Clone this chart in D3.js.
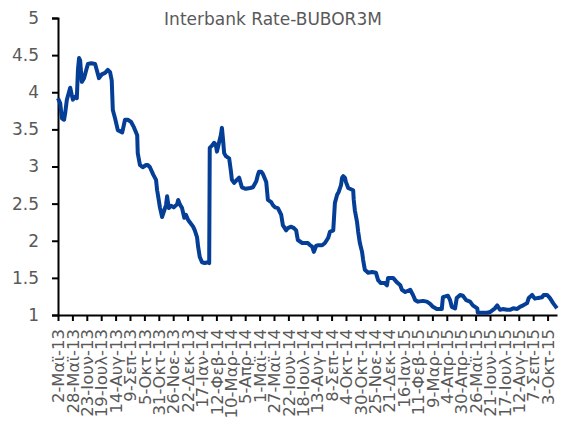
<!DOCTYPE html>
<html>
<head>
<meta charset="utf-8">
<script src="https://cdn.jsdelivr.net/npm/d3@7"></script>
<style>
  body { margin: 0; background: #fff; }
  svg text { font-family: "DejaVu Sans", sans-serif; fill: #595959; }
</style>
</head>
<body>
<svg width="569" height="427"></svg>
<script>
// BUBOR 3M readings, taken off the chart
var dates = [
  "2013-05-02","2013-05-06","2013-05-09","2013-05-13","2013-05-15","2013-05-18","2013-05-24","2013-05-27","2013-05-29",
  "2013-06-02","2013-06-05","2013-06-07","2013-06-09","2013-06-11","2013-06-13","2013-06-14","2013-06-18","2013-06-22","2013-06-25",
  "2013-07-01","2013-07-08","2013-07-11","2013-07-15","2013-07-20","2013-07-26","2013-07-31",
  "2013-08-04","2013-08-07","2013-08-09","2013-08-13","2013-08-18","2013-08-26","2013-08-31",
  "2013-09-05","2013-09-11","2013-09-16","2013-09-22","2013-09-23","2013-09-27",
  "2013-10-02","2013-10-08","2013-10-11","2013-10-15","2013-10-21","2013-10-26","2013-10-28","2013-10-30",
  "2013-11-02","2013-11-06","2013-11-09","2013-11-13","2013-11-15","2013-11-18","2013-11-22","2013-11-27",
  "2013-12-03","2013-12-05","2013-12-08","2013-12-12","2013-12-16","2013-12-19","2013-12-23","2013-12-26",
  "2014-01-01","2014-01-04","2014-01-08","2014-01-10","2014-01-13","2014-01-17","2014-01-22","2014-01-28","2014-01-30","2014-01-31",
  "2014-02-04","2014-02-08","2014-02-11","2014-02-13","2014-02-17","2014-02-20","2014-02-22","2014-02-24","2014-02-26",
  "2014-03-01","2014-03-07","2014-03-10","2014-03-12","2014-03-16","2014-03-21","2014-03-25","2014-03-30",
  "2014-04-06","2014-04-14","2014-04-19","2014-04-25","2014-04-28","2014-04-30",
  "2014-05-04","2014-05-07","2014-05-13","2014-05-16","2014-05-22","2014-05-25","2014-05-29",
  "2014-06-03","2014-06-09","2014-06-12","2014-06-18","2014-06-21","2014-06-27",
  "2014-07-02","2014-07-06","2014-07-09","2014-07-17","2014-07-27","2014-07-31",
  "2014-08-04","2014-08-07","2014-08-11","2014-08-14","2014-08-22","2014-08-27",
  "2014-09-02","2014-09-05","2014-09-11","2014-09-14","2014-09-18","2014-09-21","2014-09-25","2014-09-27","2014-09-29",
  "2014-10-02","2014-10-04","2014-10-08","2014-10-17","2014-10-18","2014-10-20","2014-10-24","2014-10-26","2014-10-29",
  "2014-11-02","2014-11-04","2014-11-07","2014-11-13","2014-11-20","2014-11-27",
  "2014-12-01","2014-12-06","2014-12-13","2014-12-17","2014-12-19","2014-12-28",
  "2015-01-04","2015-01-10","2015-01-13","2015-01-19","2015-01-28",
  "2015-02-02","2015-02-06","2015-02-11","2015-02-20","2015-02-27",
  "2015-03-05","2015-03-10","2015-03-17","2015-03-26","2015-03-28",
  "2015-04-06","2015-04-10","2015-04-13","2015-04-19","2015-04-22","2015-04-28",
  "2015-05-03","2015-05-09","2015-05-16","2015-05-21","2015-05-29","2015-05-30",
  "2015-06-08","2015-06-16","2015-06-21","2015-06-30",
  "2015-07-04","2015-07-09","2015-07-14","2015-07-22","2015-07-27",
  "2015-08-02","2015-08-09","2015-08-14","2015-08-20","2015-08-27","2015-08-30",
  "2015-09-05","2015-09-10","2015-09-16","2015-09-23","2015-09-26",
  "2015-10-02","2015-10-07","2015-10-13","2015-10-18","2015-10-20"
];
var rates = [
  3.92,3.85,3.65,3.63,3.72,3.90,4.06,3.96,3.90,
  3.94,3.92,4.30,4.46,4.43,4.23,4.14,4.19,4.30,4.38,
  4.39,4.38,4.30,4.19,4.24,4.26,4.30,
  4.27,4.16,3.76,3.65,3.49,3.46,3.63,
  3.63,3.60,3.53,3.42,3.18,3.02,
  2.99,3.02,3.02,2.99,2.89,2.82,2.68,2.59,
  2.45,2.32,2.39,2.48,2.60,2.44,2.47,2.45,
  2.49,2.55,2.49,2.44,2.31,2.35,2.28,2.25,
  2.19,2.14,2.05,1.92,1.78,1.71,1.70,1.71,1.70,3.25,
  3.28,3.32,3.29,3.20,3.33,3.42,3.52,3.36,3.18,
  3.14,3.11,2.95,2.82,2.78,2.82,2.85,2.72,
  2.70,2.71,2.72,2.80,2.89,2.93,
  2.93,2.90,2.79,2.55,2.52,2.48,2.45,
  2.44,2.35,2.21,2.14,2.17,2.19,
  2.17,2.14,2.01,1.97,1.97,1.94,
  1.92,1.85,1.93,1.94,1.94,1.97,
  2.04,2.12,2.14,2.51,2.62,2.66,2.75,2.85,2.87,
  2.85,2.79,2.71,2.68,2.55,2.41,2.25,2.12,1.97,
  1.85,1.74,1.61,1.57,1.58,1.57,
  1.47,1.43,1.43,1.40,1.50,1.50,
  1.44,1.40,1.34,1.31,1.34,
  1.27,1.20,1.18,1.19,1.18,
  1.15,1.11,1.08,1.08,1.24,
  1.26,1.20,1.11,1.09,1.23,1.27,
  1.26,1.20,1.18,1.13,1.09,1.03,
  1.03,1.03,1.04,1.09,
  1.13,1.07,1.08,1.07,1.07,
  1.09,1.08,1.11,1.13,1.16,1.23,
  1.27,1.22,1.23,1.24,1.27,
  1.27,1.23,1.16,1.11,1.09
];
var yTicks = [1, 1.5, 2, 2.5, 3, 3.5, 4, 4.5, 5];
var tickLabels = [
  "2-Μαϊ-13","28-Μαϊ-13","23-Ιουν-13","19-Ιουλ-13","14-Αυγ-13","9-Σεπ-13","5-Οκτ-13","31-Οκτ-13",
  "26-Νοε-13","22-Δεκ-13","17-Ιαν-14","12-Φεβ-14","10-Μαρ-14","5-Απρ-14","1-Μαϊ-14","27-Μαϊ-14",
  "22-Ιουν-14","18-Ιουλ-14","13-Αυγ-14","8-Σεπ-14","4-Οκτ-14","30-Οκτ-14","25-Νοε-14","21-Δεκ-14",
  "16-Ιαν-15","11-Φεβ-15","9-Μαρ-15","4-Απρ-15","30-Απρ-15","26-Μαϊ-15","21-Ιουν-15","17-Ιουλ-15",
  "12-Αυγ-15","7-Σεπ-15","3-Οκτ-15"
];
var title = "Interbank Rate-BUBOR3M";

var parse = d3.utcParse("%Y-%m-%d");
var data = dates.map(function (d, i) { return { date: parse(d), value: rates[i] }; });
var start = parse(dates[0]);
var tickDates = tickLabels.map(function (l, i) { return d3.utcDay.offset(start, 26 * i); });

var svg = d3.select("svg");

var x = d3.scaleUtc()
    .domain([start, parse(dates[dates.length - 1])])
    .range([58, 557]);
var y = d3.scaleLinear()
    .domain([1, 5])
    .range([315, 18]);

// y axis
var yAxis = svg.append("g")
    .attr("transform", "translate(58,0)")
    .call(d3.axisLeft(y).tickValues(yTicks).tickSize(6).tickPadding(13)
        .tickFormat(function (d) { return String(d); }));
yAxis.select(".domain").attr("stroke", "#000").attr("stroke-width", 2);
yAxis.selectAll(".tick line").attr("stroke", "#000").attr("stroke-width", 2);
yAxis.selectAll("text").style("font-size", "17px").attr("fill", "#595959");

// x axis
var xAxis = svg.append("g")
    .attr("transform", "translate(0,315)")
    .call(d3.axisBottom(x).tickValues(tickDates).tickSize(6).tickSizeOuter(0)
        .tickFormat(function (d, i) { return tickLabels[i]; }));
xAxis.select(".domain").attr("stroke", "#000").attr("stroke-width", 2);
xAxis.selectAll(".tick line").attr("stroke", "#000").attr("stroke-width", 2);
xAxis.selectAll("text")
    .style("font-size", "16.5px")
    .attr("fill", "#595959")
    .attr("text-anchor", "end")
    .attr("dy", "0.35em")
    .attr("transform", "translate(0,14) rotate(-90)")
    .attr("x", 0)
    .attr("y", 0);

// line
var line = d3.line()
    .x(function (d) { return x(d.date); })
    .y(function (d) { return y(d.value); });

svg.append("path")
    .datum(data)
    .attr("fill", "none")
    .attr("stroke", "#053E96")
    .attr("stroke-width", 4)
    .attr("stroke-linejoin", "round")
    .attr("d", line);

svg.append("text")
    .attr("x", 273)
    .attr("y", 25)
    .attr("text-anchor", "middle")
    .style("font-size", "17px")
    .text(title);
</script>
</body>
</html>
